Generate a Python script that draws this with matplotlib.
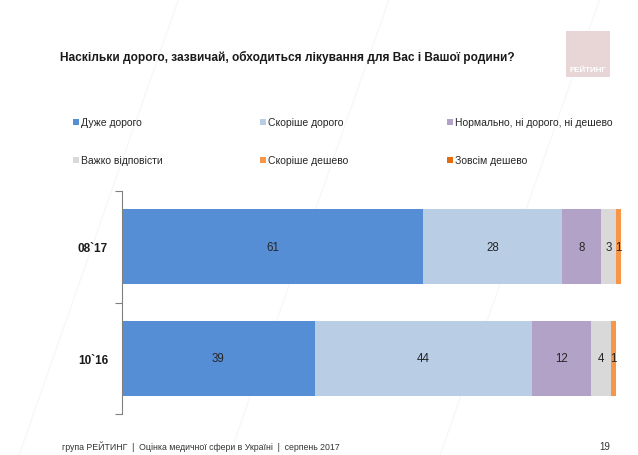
import matplotlib
matplotlib.use("Agg")
import matplotlib.pyplot as plt
from matplotlib.patches import Rectangle
import numpy as np

periods = ["08`17", "10`16"]
categories = ["Дуже дорого", "Скоріше дорого", "Нормально, ні дорого, ні дешево",
              "Важко відповісти", "Скоріше дешево", "Зовсім дешево"]
values = {
    "Дуже дорого": [61, 39],
    "Скоріше дорого": [28, 44],
    "Нормально, ні дорого, ні дешево": [8, 12],
    "Важко відповісти": [3, 4],
    "Скоріше дешево": [1, 1],
    "Зовсім дешево": [0, 0],
}
colors = ["#558ED5", "#B9CDE5", "#B3A2C7", "#D9D9D9", "#F79646", "#E46C0A"]
title = "Наскільки дорого, зазвичай, обходиться лікування для Вас і Вашої родини?"
footer = "група РЕЙТИНГ  |  Оцінка медичної сфери в Україні  |  серпень 2017"
page = "19"

plt.rcParams['font.family'] = ['Liberation Sans', 'DejaVu Sans']

W, H = 638, 456
fig = plt.figure(figsize=(W/100, H/100), dpi=100)
fig.patch.set_facecolor("white")

# faint background lines
for x0 in np.arange(-0.3, 1.3, 0.33):
    fig.add_artist(plt.Line2D([x0, x0 + 0.25], [0, 1], transform=fig.transFigure,
                              color="#F6F6F6", lw=0.8, zorder=0))

ax = fig.add_axes([122/W, 1-415/H, 499/W, (415-192)/H])
ax.set_facecolor("none")
y = np.arange(len(periods))
left = np.zeros(len(periods))
for cat, col in zip(categories, colors):
    v = np.array(values[cat], dtype=float)
    ax.barh(y, v, left=left, height=0.67, color=col, label=cat, zorder=2)
    for i, val in enumerate(v):
        if val > 0:
            ax.text(left[i] + val/2, y[i], f"{int(val)}", ha="center", va="center",
                    fontsize=8.3, color="#262626", zorder=3)
    left += v

ax.set_xlim(0, 101)
ax.set_ylim(1.5, -0.5)
ax.set_xticks([])
ax.set_yticks([-0.5, 0.5, 1.5])
ax.set_yticklabels([])
ax.set_yticks(y, minor=True)
ax.set_yticklabels(periods, minor=True, fontsize=8.5, fontweight="bold", color="#1a1a1a")
ax.tick_params(axis="y", which="minor", length=0, pad=10)
ax.tick_params(axis="y", which="major", length=5, color="#808080", direction="out")
for s in ["top", "right", "bottom"]:
    ax.spines[s].set_visible(False)
ax.spines["left"].set_color("#808080")

# legend, row-wise, 3 columns
col_x = [73, 260, 447]
row_y = [123, 161]
for k, (cat, col) in enumerate(zip(categories, colors)):
    cx = col_x[k % 3]
    cy = row_y[k // 3]
    fig.add_artist(Rectangle((cx/W, (H-cy-3)/H), 6/W, 6/H, transform=fig.transFigure,
                             facecolor=col, edgecolor="none"))
    fig.text((cx+8)/W, 1-cy/H, cat, fontsize=7.5, color="#262626", ha="left", va="center")

fig.text(60/W, 1-57/H, title, fontsize=8.55, fontweight="bold", color="#1a1a1a",
         ha="left", va="center")

# logo
fig.add_artist(Rectangle((566/W, 1-78/H), 44/W, 46/H, transform=fig.transFigure,
                         facecolor="#E8D6D6", edgecolor="none"))
fig.text(588/W, 1-70/H, "РЕЙТИНГ", fontsize=5.8, fontweight="bold", color="white",
         ha="center", va="center")

fig.text(62/W, 1-447/H, footer, fontsize=6.3, color="#333333", ha="left", va="center")
fig.text(605/W, 1-447/H, page, fontsize=7, color="#333333", ha="center", va="center")

fig.savefig("out.png", dpi=100)
